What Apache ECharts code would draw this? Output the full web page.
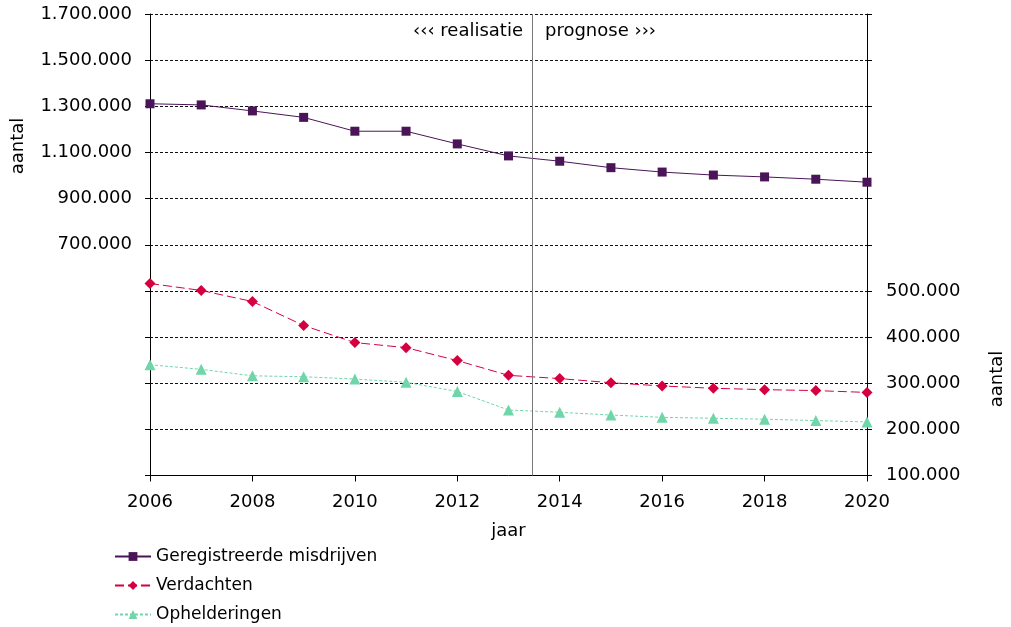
<!DOCTYPE html>
<html>
<head>
<meta charset="utf-8">
<script src="https://cdn.jsdelivr.net/npm/echarts@6/dist/echarts.min.js"></script>
<style>
  html, body { margin: 0; padding: 0; background: #fff; }
  #main { width: 1011px; height: 627px; }
</style>
</head>
<body>
<div id="main"></div>
<script>
const years = [2006, 2007, 2008, 2009, 2010, 2011, 2012, 2013, 2014, 2015, 2016, 2017, 2018, 2019, 2020];
// left axis
const misdrijven = [1311000, 1306000, 1280000, 1252000, 1192000, 1192000, 1137000, 1085000,
  1062000, 1034000, 1015000, 1002000, 994000, 984000, 971000];
// right axis
const verdachten = [516000, 501000, 477000, 425000, 388000, 377000, 349000, 317000,
  310000, 301000, 294000, 289000, 286000, 284000, 280000];
const opheldering = [340000, 330000, 316000, 314000, 309000, 302000, 282000, 242000,
  237000, 231000, 226000, 224000, 222000, 219000, 216000];

const leftLabels = [700000, 900000, 1100000, 1300000, 1500000, 1700000];
const leftTicks = [-300000, -100000, 100000, 300000, 500000, 700000, 900000, 1100000, 1300000, 1500000, 1700000];
const rightLabels = [100000, 200000, 300000, 400000, 500000];
const splitYear = 2013.47;

const FONT = 'DejaVu Sans';
const fmt = v => String(v).replace(/\B(?=(\d{3})+(?!\d))/g, '.');
const pairs = vals => years.map((y, i) => [y, vals[i]]);

const chart = echarts.init(document.getElementById('main'));
chart.setOption({
  animation: false,
  textStyle: { fontFamily: FONT },
  grid: { left: 150, top: 14, width: 717, height: 461.5, containLabel: false },
  legend: {
    orient: 'vertical',
    left: 114,
    top: 548,
    height: 120,
    padding: 0,
    itemWidth: 36,
    itemHeight: 11,
    itemGap: 12,
    textStyle: { fontSize: 17, color: '#000', fontFamily: FONT },
    data: ['Geregistreerde misdrijven', 'Verdachten', 'Ophelderingen']
  },
  xAxis: {
    type: 'value',
    min: 2006,
    max: 2020,
    interval: 2,
    name: 'jaar',
    nameLocation: 'middle',
    nameGap: 47,
    nameTextStyle: { fontSize: 18, color: '#000' },
    axisLine: { onZero: false, lineStyle: { color: '#000', width: 1 } },
    axisTick: { show: true, length: 6, lineStyle: { color: '#000' } },
    axisLabel: { fontSize: 18, color: '#000', margin: 18, formatter: v => String(v) },
    splitLine: { show: false }
  },
  yAxis: [
    {
      type: 'value',
      min: -300000,
      max: 1700000,
      position: 'left',
      axisLine: { show: true, lineStyle: { color: '#000', width: 1 } },
      axisTick: { show: true, length: 5, customValues: leftTicks, lineStyle: { color: '#000' } },
      axisLabel: { fontSize: 18, color: '#000', margin: 18, customValues: leftLabels, formatter: fmt },
      splitLine: { show: false }
    },
    {
      type: 'value',
      min: 100000,
      max: 1100000,
      interval: 100000,
      position: 'right',
      axisLine: { show: true, lineStyle: { color: '#000', width: 1 } },
      axisTick: { show: true, length: 5, lineStyle: { color: '#000' } },
      axisLabel: { fontSize: 18, color: '#000', margin: 19, customValues: rightLabels, formatter: fmt },
      splitLine: { show: true, lineStyle: { color: '#111', type: [3, 2], width: 1 } }
    }
  ],
  graphic: [
    { type: 'text', x: 18, y: 146, rotation: Math.PI / 2,
      style: { text: 'aantal', fontSize: 18, fontFamily: FONT, fill: '#000', align: 'center', verticalAlign: 'middle' } },
    { type: 'text', x: 997, y: 379, rotation: Math.PI / 2,
      style: { text: 'aantal', fontSize: 18, fontFamily: FONT, fill: '#000', align: 'center', verticalAlign: 'middle' } },
    { type: 'text', x: 523, y: 31, z: 10,
      style: { text: '‹‹‹ realisatie', fontSize: 18, fontFamily: FONT, fill: '#000', align: 'right', verticalAlign: 'middle' } },
    { type: 'text', x: 545, y: 31, z: 10,
      style: { text: 'prognose ›››', fontSize: 18, fontFamily: FONT, fill: '#000', align: 'left', verticalAlign: 'middle' } }
  ],
  series: [
    {
      name: 'Geregistreerde misdrijven',
      type: 'line',
      yAxisIndex: 0,
      data: pairs(misdrijven),
      symbol: 'rect',
      symbolSize: 9,
      color: '#4B1458',
      lineStyle: { color: '#4B1458', width: 1 },
      itemStyle: { color: '#4B1458' },
      markLine: {
        silent: true,
        symbol: 'none',
        label: { show: false },
        lineStyle: { color: '#777', type: 'solid', width: 1 },
        data: [{ xAxis: splitYear }]
      }
    },
    {
      name: 'Verdachten',
      type: 'line',
      yAxisIndex: 1,
      data: pairs(verdachten),
      symbol: 'diamond',
      symbolSize: 11,
      color: '#D5003F',
      lineStyle: { color: '#D5003F', width: 1, type: [9, 4] },
      itemStyle: { color: '#D5003F' }
    },
    {
      name: 'Ophelderingen',
      type: 'line',
      yAxisIndex: 1,
      data: pairs(opheldering),
      symbol: 'triangle',
      symbolSize: 11,
      color: '#6FD6A9',
      lineStyle: { color: '#6FD6A9', width: 1, type: [3, 2] },
      itemStyle: { color: '#6FD6A9' }
    }
  ]
});
</script>
</body>
</html>
